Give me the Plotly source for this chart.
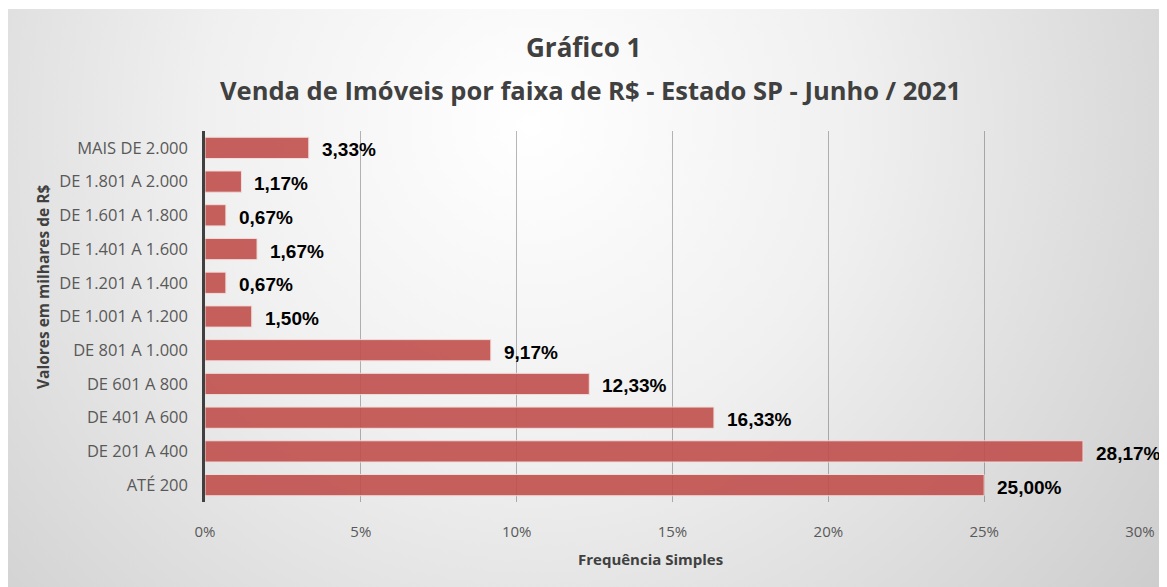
import base64
import plotly.graph_objects as go

categories = ["ATÉ 200", "DE 201 A 400", "DE 401 A 600", "DE 601 A 800", "DE 801 A 1.000",
              "DE 1.001 A 1.200", "DE 1.201 A 1.400", "DE 1.401 A 1.600", "DE 1.601 A 1.800",
              "DE 1.801 A 2.000", "MAIS DE 2.000"]
values = [25.00, 28.17, 16.33, 12.33, 9.17, 1.50, 0.67, 1.67, 0.67, 1.17, 3.33]
x_ticks = [0, 5, 10, 15, 20, 25, 30]
x_tick_labels = ["0%", "5%", "10%", "15%", "20%", "25%", "30%"]

# page body has an 8px margin: figure coordinates = screen - 8
OFF = 8
W, H = 1167 - OFF, 587 - OFF
L, R, T, B = 205 - OFF, 1140 - OFF, 131 - OFF, 502 - OFF

FONT = "Open Sans"

fig = go.Figure()
fig.add_trace(go.Bar(
    y=categories, x=values, orientation="h",
    marker=dict(color="#C0504D", opacity=0.9, line=dict(color="#F2DCDB", width=1)),
    hoverinfo="skip",
))

def px_x(p):
    return (p - OFF - L) / (R - L)

def px_y(p):
    return (B - (p - OFF)) / (B - T)

annotations = []
for c, v in zip(categories, values):
    annotations.append(dict(
        x=v, y=c, xref="x", yref="y", text="<b>" + f"{v:.2f}%".replace(".", ",") + "</b>",
        showarrow=False, xanchor="left", yanchor="middle", xshift=11, yshift=-2,
        font=dict(family="Arial", size=19, color="#000000"),
    ))

annotations += [
    dict(x=px_x(583), y=px_y(47), xref="paper", yref="paper", text="<b>Gráfico 1</b>",
         showarrow=False, xanchor="center", yanchor="middle",
         font=dict(family=FONT, size=26, color="#404040")),
    dict(x=px_x(590), y=px_y(90), xref="paper", yref="paper",
         text="<b>Venda de Imóveis por faixa de R$ - Estado SP - Junho / 2021</b>",
         showarrow=False, xanchor="center", yanchor="middle",
         font=dict(family=FONT, size=25.5, color="#404040")),
    dict(x=px_x(650), y=px_y(559), xref="paper", yref="paper", text="<b>Frequência Simples</b>",
         showarrow=False, xanchor="center", yanchor="middle",
         font=dict(family=FONT, size=15, color="#404040")),
    dict(x=px_x(43), y=px_y(287), xref="paper", yref="paper", text="<b>Valores em milhares de R$</b>",
         showarrow=False, xanchor="center", yanchor="middle", textangle=-90,
         font=dict(family=FONT, size=15.5, color="#404040")),
]

svg = (
    f'<svg xmlns="http://www.w3.org/2000/svg" width="{W}" height="{H}" viewBox="0 0 {W} {H}" '
    'preserveAspectRatio="none">'
    '<defs><radialGradient id="g" cx="0.45" cy="0.2" r="0.8" gradientUnits="objectBoundingBox" '
    'gradientTransform="translate(0.45 0.2) scale(1 2) translate(-0.45 -0.2)">'
    '<stop offset="0" stop-color="#ffffff"/><stop offset="0.35" stop-color="#f0f0f0"/>'
    '<stop offset="1" stop-color="#c2c2c2"/></radialGradient></defs>'
    f'<rect width="{W}" height="{H}" fill="url(#g)"/></svg>'
)
src = "data:image/svg+xml;base64," + base64.b64encode(svg.encode()).decode()

fig.update_layout(
    width=W, height=H,
    margin=dict(l=L, r=W - R, t=T, b=H - B, pad=0),
    paper_bgcolor="#ffffff", plot_bgcolor="rgba(0,0,0,0)",
    bargap=0.37, showlegend=False,
    annotations=annotations,
    images=[dict(source=src, xref="paper", yref="paper", x=-L / (R - L), y=(B - 1) / (B - T),
                 sizex=W / (R - L), sizey=(H - 1) / (B - T),
                 xanchor="left", yanchor="top", sizing="stretch", layer="below")],
    xaxis=dict(range=[0, 30], tickvals=x_ticks, ticktext=x_tick_labels,
               showgrid=True, gridcolor="rgba(0,0,0,0.28)", gridwidth=1,
               zeroline=False, showline=False, ticks="",
               ticklabelstandoff=19,
               tickfont=dict(family=FONT, size=15, color="#595959")),
    yaxis=dict(categoryorder="array", categoryarray=categories,
               showline=True, linecolor="#404040", linewidth=2.5,
               showgrid=False, ticks="", ticklabelstandoff=11,
               tickfont=dict(family=FONT, size=16.5, color="#595959")),
)

fig.write_html("out.html")
